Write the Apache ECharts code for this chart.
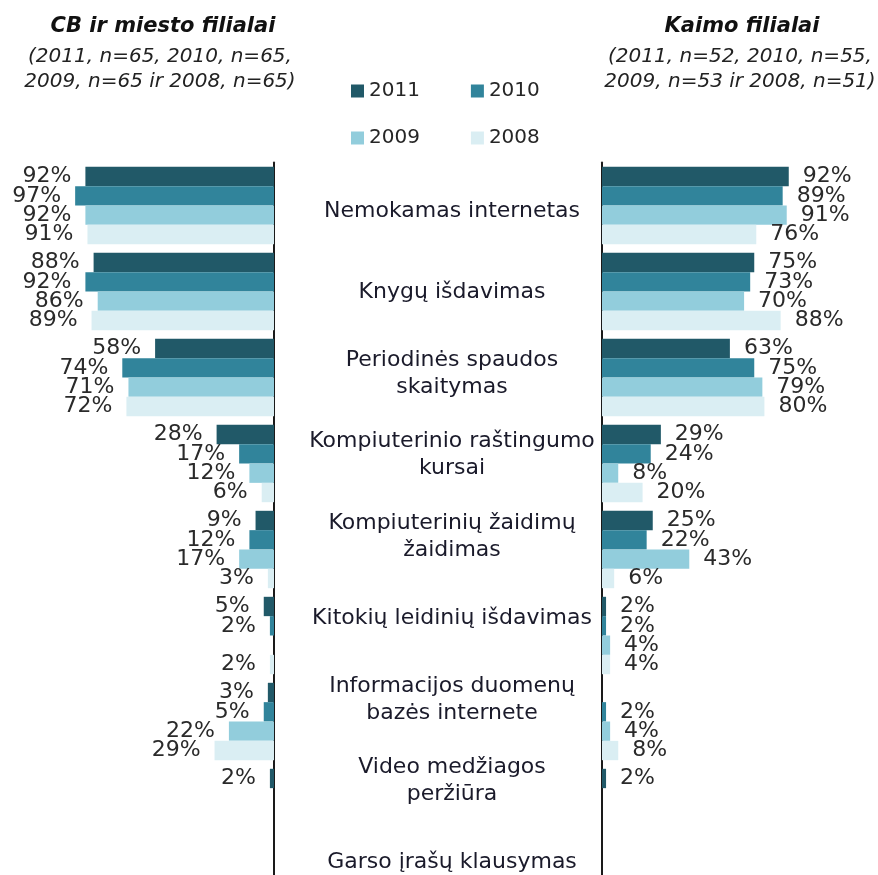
<!DOCTYPE html>
<html>
<head>
<meta charset="utf-8">
<script src="https://cdn.jsdelivr.net/npm/echarts@6/dist/echarts.min.js"></script>
<style>html,body{margin:0;padding:0;background:#fff}#c{width:878px;height:875px}</style>
</head>
<body>
<div id="c"></div>
<script>
const categories = [
  'Nemokamas internetas',
  'Knygų išdavimas',
  'Periodinės spaudos\nskaitymas',
  'Kompiuterinio raštingumo\nkursai',
  'Kompiuterinių žaidimų\nžaidimas',
  'Kitokių leidinių išdavimas',
  'Informacijos duomenų\nbazės internete',
  'Video medžiagos\nperžiūra',
  'Garso įrašų klausymas'
];
const years = ['2011', '2010', '2009', '2008'];

// CB ir miesto filialai
const city2011 = [92, 88, 58, 28, 9, 5, 3, 2, null];
const city2010 = [97, 92, 74, 17, 12, 2, 5, null, null];
const city2009 = [92, 86, 71, 12, 17, null, 22, null, null];
const city2008 = [91, 89, 72, 6, 3, 2, 29, null, null];

// Kaimo filialai
const rural2011 = [92, 75, 63, 29, 25, 2, null, 2, null];
const rural2010 = [89, 73, 75, 24, 22, 2, 2, null, null];
const rural2009 = [91, 70, 79, 8, 43, 4, 4, null, null];
const rural2008 = [76, 88, 80, 20, 6, 4, 8, null, null];

const colors = ['#215968', '#31849B', '#92CDDC', '#DAEEF3'];
const FONT = 'DejaVu Sans, Verdana, sans-serif';

const chart = echarts.init(document.getElementById('c'));

function barSeries(name, data, idx, side) {
  return {
    name: name,
    type: 'bar',
    xAxisIndex: side,
    yAxisIndex: side,
    data: data,
    barGap: '0%',
    barCategoryGap: '10%',
    itemStyle: { color: colors[idx] },
    label: {
      show: true,
      position: side === 0 ? 'left' : 'right',
      distance: 14,
      formatter: '{c}%',
      fontFamily: FONT,
      fontSize: 22,
      color: '#2a2a2a'
    },
    emphasis: { disabled: true }
  };
}

const cityData = [city2011, city2010, city2009, city2008];
const ruralData = [rural2011, rural2010, rural2009, rural2008];
const series = [];
years.forEach((y, i) => series.push(barSeries(y, cityData[i], i, 0)));
years.forEach((y, i) => series.push(barSeries(y, ruralData[i], i, 1)));

const GT = 162.5, GH = 774;

chart.setOption({
  animation: false,
  backgroundColor: '#fff',
  title: [
    { text: 'CB ir miesto filialai', left: 158, top: 11, textAlign: 'center',
      textStyle: { fontFamily: FONT, fontSize: 21, fontStyle: 'italic', fontWeight: 'bold', color: '#111' } },
    { text: '(2011, n=65, 2010, n=65,\n2009, n=65 ir 2008, n=65)', left: 155, top: 39, textAlign: 'center',
      textStyle: { fontFamily: FONT, fontSize: 20, fontStyle: 'italic', fontWeight: 'normal', color: '#222', lineHeight: 25 } },
    { text: 'Kaimo filialai', left: 737, top: 11, textAlign: 'center',
      textStyle: { fontFamily: FONT, fontSize: 21, fontStyle: 'italic', fontWeight: 'bold', color: '#111' } },
    { text: '(2011, n=52, 2010, n=55,\n2009, n=53 ir 2008, n=51)', left: 735, top: 39, textAlign: 'center',
      textStyle: { fontFamily: FONT, fontSize: 20, fontStyle: 'italic', fontWeight: 'normal', color: '#222', lineHeight: 25 } }
  ],
  legend: [
    { data: years.slice(0, 2), left: 351, top: 81, padding: 0, itemGap: 51, itemWidth: 13, itemHeight: 13,
      icon: 'rect', textStyle: { fontFamily: FONT, fontSize: 20, color: '#262626' } },
    { data: years.slice(2, 4), left: 351, top: 128, padding: 0, itemGap: 51, itemWidth: 13, itemHeight: 13,
      icon: 'rect', textStyle: { fontFamily: FONT, fontSize: 20, color: '#262626' } }
  ],
  grid: [
    { left: 69, width: 205, top: GT, height: GH, outerBoundsMode: 'none', containLabel: false },
    { left: 602, width: 203, top: GT, height: GH, outerBoundsMode: 'none', containLabel: false },
    { left: 452, width: 1, top: 170.3, height: 732.6, outerBoundsMode: 'none', containLabel: false }
  ],
  xAxis: [
    { gridIndex: 0, type: 'value', min: 0, max: 100, inverse: true, show: false },
    { gridIndex: 1, type: 'value', min: 0, max: 100, show: false },
    { gridIndex: 2, type: 'value', min: 0, max: 1, show: false }
  ],
  yAxis: [
    { gridIndex: 0, type: 'category', data: categories, inverse: true, position: 'right',
      axisLine: { show: true, lineStyle: { color: '#1a1a1a', width: 2 } },
      axisTick: { show: false }, axisLabel: { show: false }, splitLine: { show: false } },
    { gridIndex: 1, type: 'category', data: categories, inverse: true, position: 'left',
      axisLine: { show: true, lineStyle: { color: '#1a1a1a', width: 2 } },
      axisTick: { show: false }, axisLabel: { show: false }, splitLine: { show: false } },
    { gridIndex: 2, type: 'category', data: categories, inverse: true, position: 'left',
      axisLine: { show: false }, axisTick: { show: false }, splitLine: { show: false },
      axisLabel: { show: true, align: 'center', margin: 0, fontFamily: FONT, fontSize: 22,
        lineHeight: 27, color: '#1a1a2a', interval: 0 } }
  ],
  series: series
});
</script>
</body>
</html>
